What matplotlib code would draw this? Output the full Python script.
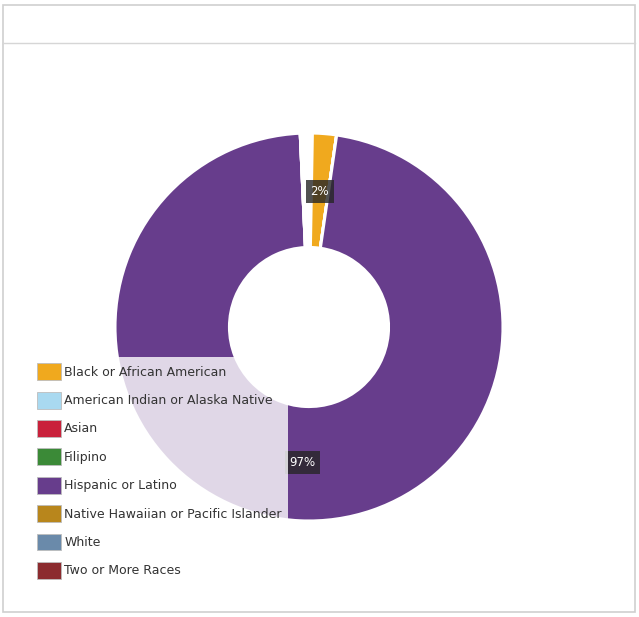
import matplotlib
matplotlib.use('Agg')
import matplotlib.pyplot as plt
import matplotlib.patches as mpatches
from matplotlib.lines import Line2D

categories = ['Black or African American', 'American Indian or Alaska Native', 'Asian',
              'Filipino', 'Hispanic or Latino', 'Native Hawaiian or Pacific Islander',
              'White', 'Two or More Races']
percents = [2, 0, 0, 0, 97, 0, 0, 0]
colors = ['#f0a91e', '#a9d9f0', '#c9213b', '#3b8a37', '#673d8c', '#b8861c', '#6a8aaa', '#8c2b2f']

W, H = 639, 617
fig = plt.figure(figsize=(W / 100, H / 100), dpi=100)
fig.patch.set_facecolor('white')

# panel frame and header rule
fig.patches.append(mpatches.Rectangle((3 / W, 5 / H), 632 / W, 607 / H, transform=fig.transFigure,
                                      fill=False, edgecolor='#cfcfcf', lw=1.2))
fig.add_artist(Line2D([3 / W, 635 / W], [(H - 43) / H] * 2, color='#d6d6d6', lw=1))

# donut centred at (309, 327) px, outer radius 194 px
cx, cy, r = 309, 327, 194
ax = fig.add_axes([(cx - r) / W, (H - cy - r) / H, 2 * r / W, 2 * r / H])
fracs = [p / 100 for p in percents]
wedges, texts, autotexts = ax.pie(
    fracs, colors=colors, startangle=89, counterclock=False, normalize=False, radius=1.0,
    autopct=lambda p: f'{p:.0f}%' if p > 0.5 else '', pctdistance=0.70,
    wedgeprops=dict(width=0.59, edgecolor='white', linewidth=2.2),
    textprops=dict(color='white', fontsize=8.5))
for t in autotexts:
    if t.get_text():
        t.set_bbox(dict(boxstyle='square,pad=0.4', facecolor='#262626', alpha=0.8, edgecolor='none'))
ax.set_xlim(-1, 1)
ax.set_ylim(-1, 1)
ax.set_aspect('equal')
ax.axis('off')

handles = [mpatches.Patch(facecolor=c, edgecolor='#bdbdbd', lw=0.6) for c in colors]
leg = fig.legend(handles, categories, loc='upper left', bbox_to_anchor=(31 / W, (H - 357) / H),
                 borderaxespad=0, fontsize=9, frameon=True, fancybox=False,
                 handlelength=1.9, handleheight=1.7, handletextpad=0.25,
                 labelspacing=0.92, borderpad=0.5)
leg.get_frame().set_facecolor('white')
leg.get_frame().set_alpha(0.8)
leg.get_frame().set_edgecolor('none')
for txt in leg.get_texts():
    txt.set_color('#333333')

fig.savefig('out.png', dpi=100)
